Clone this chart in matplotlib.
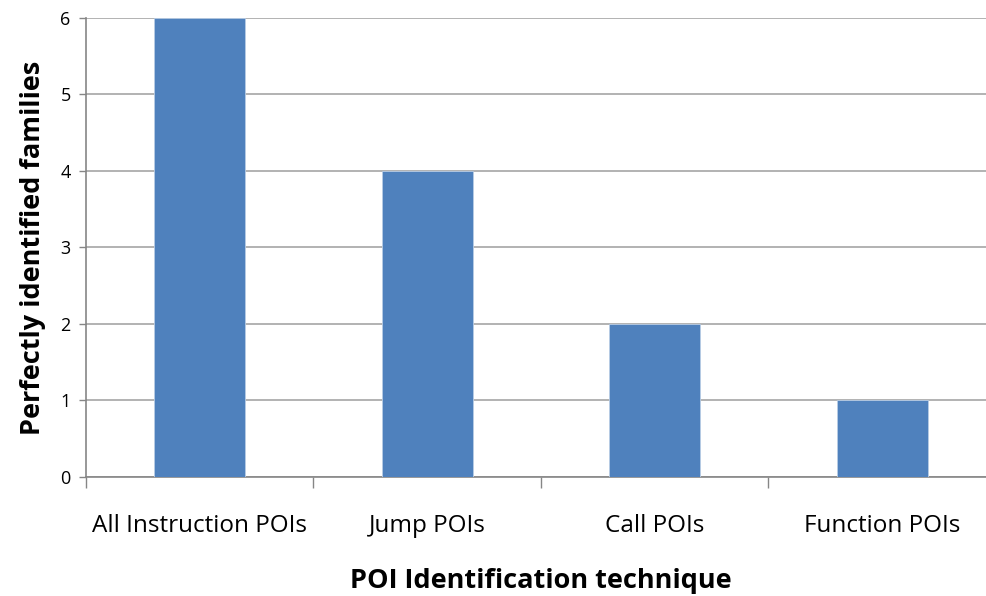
import matplotlib.pyplot as plt
import numpy as np

# Data
techniques = ['All Instruction POIs', 'Jump POIs', 'Call POIs', 'Function POIs']
families = [6, 4, 2, 1]

plt.rcParams['font.family'] = ['Open Sans', 'DejaVu Sans']

fig = plt.figure(figsize=(9.87, 5.96), dpi=100)
ax = fig.add_axes([0.0871, 0.1997, 0.9219, 0.7701])

x = np.arange(len(techniques))
ax.bar(x, families, width=0.4, color='#4F81BD', edgecolor='#B9CDE5',
       linewidth=0.6, zorder=3)

ax.set_xlim(-0.5, len(techniques) - 0.5)
ax.set_ylim(0, 6)
ax.set_yticks(range(0, 7))
ax.yaxis.grid(True, color='#A6A6A6', linewidth=1.2, zorder=0)

# category labels centred, ticks at category boundaries
ax.set_xticks(x)
ax.set_xticklabels(techniques, fontsize=17.5)
ax.set_xticks(np.arange(-0.5, len(techniques)), minor=True)
ax.tick_params(axis='x', which='major', length=0, pad=27)
ax.tick_params(axis='x', which='minor', length=8, color='#868686', width=1)
ax.tick_params(axis='y', length=5, color='#868686', width=1, labelsize=13, pad=6)

for side in ['top', 'right']:
    ax.spines[side].set_visible(False)
for side in ['left', 'bottom']:
    ax.spines[side].set_color('#868686')
    ax.spines[side].set_linewidth(1.2)

ax.set_xlabel('POI Identification technique', fontsize=19.5, fontweight='bold', labelpad=21)
ax.set_ylabel('Perfectly identified families', fontsize=19.5, fontweight='bold', labelpad=10)

fig.savefig('out.png', dpi=100)
